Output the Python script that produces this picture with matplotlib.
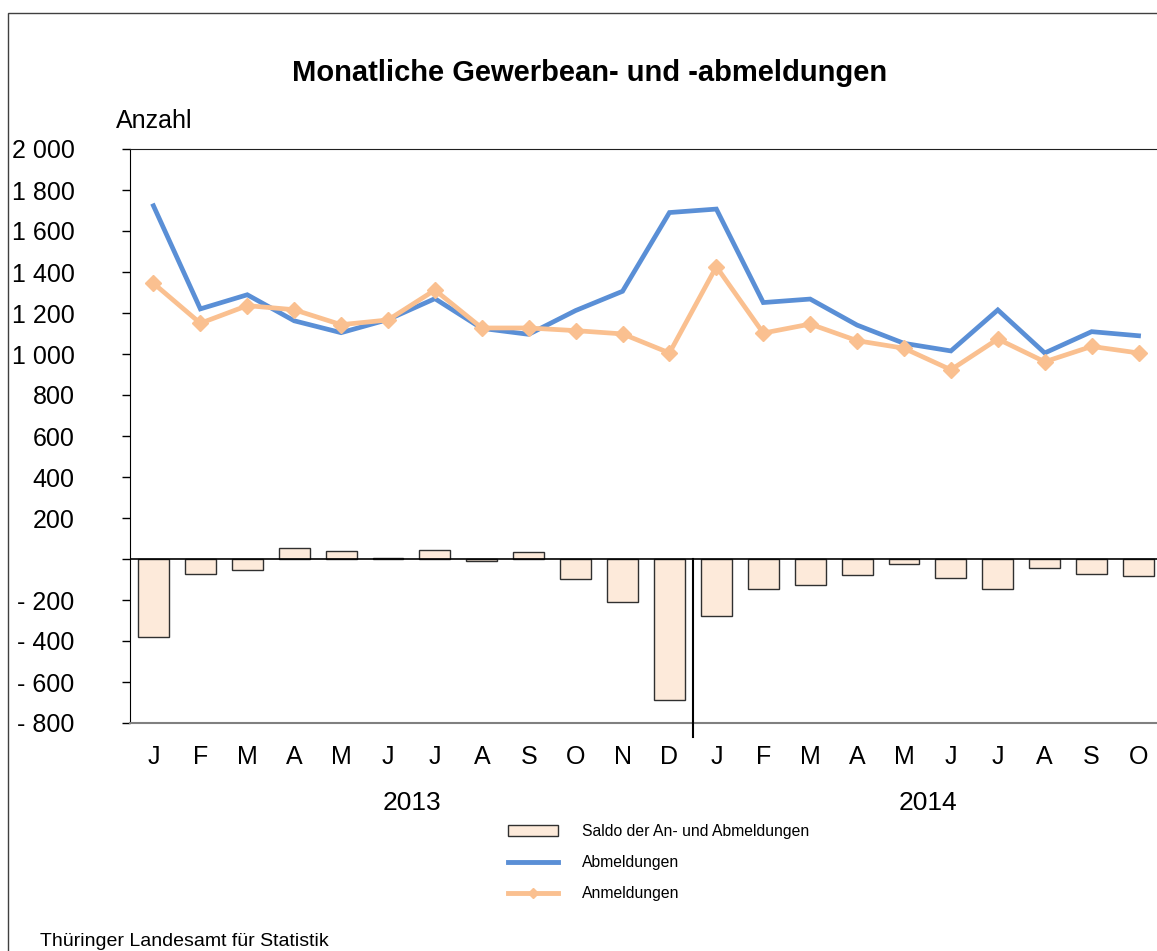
import matplotlib
matplotlib.use("Agg")
import matplotlib.pyplot as plt
from matplotlib.patches import Patch, Rectangle
from matplotlib.lines import Line2D
from matplotlib.transforms import blended_transform_factory

plt.rcParams['font.family'] = ['Liberation Sans', 'DejaVu Sans']

# data (Jan 2013 - Oct 2014)
months = ["J", "F", "M", "A", "M", "J", "J", "A", "S", "O", "N", "D",
          "J", "F", "M", "A", "M", "J", "J", "A", "S", "O"]
years = ["2013", "2014"]
abmeldungen = [1723, 1220, 1289, 1162, 1104, 1168, 1270, 1125, 1096, 1212, 1306, 1690,
               1707, 1251, 1268, 1141, 1052, 1015, 1215, 1005, 1109, 1089]
anmeldungen = [1345, 1150, 1236, 1216, 1143, 1166, 1312, 1127, 1127, 1114, 1098, 1005,
               1426, 1102, 1146, 1065, 1028, 923, 1073, 962, 1037, 1005]
saldo = [-379, -75, -55, 54, 40, 3, 45, -9, 32, -98, -208, -688,
         -280, -148, -125, -78, -24, -93, -145, -43, -71, -85]
yticks = [2000, 1800, 1600, 1400, 1200, 1000, 800, 600, 400, 200, 0,
          -200, -400, -600, -800]
ytick_labels = ["2 000", "1 800", "1 600", "1 400", "1 200", "1 000", "800", "600",
                "400", "200", "", "- 200", "- 400", "- 600", "- 800"]

blue = "#5A8FD6"
orange = "#FAC090"
barfill = "#FDEADA"

W, H = 1157, 951
fig = plt.figure(figsize=(W / 100, H / 100), dpi=100)

# outer frame
fig.patches.append(Rectangle((8 / W, -0.1), 1.2, 1 - 13 / H + 0.1, transform=fig.transFigure,
                             fill=False, edgecolor="#404040", lw=1.0))

ax = fig.add_axes([130 / W, 1 - 723 / H, 1032 / W, 574 / H])
x = list(range(len(months)))

ax.bar(x, saldo, width=0.66, color=barfill, edgecolor="#303030", linewidth=1.0, zorder=2)
ax.plot(x, abmeldungen, color=blue, lw=3.4, zorder=3, solid_joinstyle="miter")
ax.plot(x, anmeldungen, color=orange, lw=3.4, marker="D", markersize=8.5, zorder=4)
ax.axhline(0, color="black", lw=1.2, zorder=2.5)
ax.plot([11.5, 11.5], [0, -870], color="black", lw=1.5, clip_on=False, zorder=5)

ax.set_xlim(-0.5, 21.5)
ax.set_ylim(-800, 2000)
ax.set_yticks(yticks)
ax.set_yticklabels(ytick_labels, fontsize=18)
ax.set_xticks(x)
ax.set_xticklabels(months, fontsize=18)
ax.tick_params(axis="x", length=0, pad=16)
ax.tick_params(axis="y", length=6, width=1, direction="out", pad=34)

ax.spines["right"].set_visible(False)
ax.spines["top"].set_color("#202020")
ax.spines["left"].set_color("black")
ax.spines["bottom"].set_color("#808080")
ax.spines["bottom"].set_linewidth(1.5)

tr = blended_transform_factory(ax.transData, ax.transAxes)
ax.text(5.5, -0.139, years[0], transform=tr, ha="center", va="center", fontsize=19)
ax.text(16.5, -0.139, years[1], transform=tr, ha="center", va="center", fontsize=19)

fig.text(590 / W, 1 - 73 / H, "Monatliche Gewerbean- und -abmeldungen",
         ha="center", va="center", fontsize=21, fontweight="bold")
fig.text(116 / W, 1 - 121 / H, "Anzahl", ha="left", va="center", fontsize=18)
fig.text(40 / W, 1 - 946 / H, "Thüringer Landesamt für Statistik",
         ha="left", va="baseline", fontsize=14)

handles = [
    Patch(facecolor=barfill, edgecolor="#303030", linewidth=1.0),
    Line2D([], [], color=blue, lw=3.5),
    Line2D([], [], color=orange, lw=3.5, marker="D", markersize=5),
]
labels = ["Saldo der An- und Abmeldungen", "Abmeldungen", "Anmeldungen"]
fig.legend(handles, labels, loc="upper left", bbox_to_anchor=(508 / W, 1 - 824 / H),
           frameon=False, fontsize=11.3, handlelength=3.2, handletextpad=1.5,
           labelspacing=1.02, borderpad=0, borderaxespad=0)

fig.savefig("out.png", dpi=100)
